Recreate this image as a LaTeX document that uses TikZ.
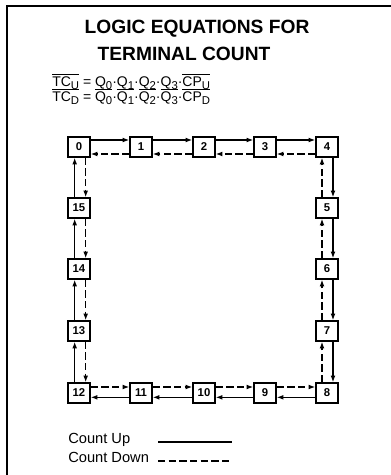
\documentclass[tikz,border=0pt]{standalone}
\usepackage{fontspec}
\setmainfont{Liberation Sans}
\usetikzlibrary{arrows.meta}

\newcommand{\ovl}[1]{$\overline{\mbox{#1}}$}
\newcommand{\sbs}[1]{\raisebox{-0.5ex}{\fontsize{8.5}{9}\selectfont #1}}
\newcommand{\pdt}{\textperiodcentered}

\tikzset{
  state/.style={draw,line width=1.1pt,minimum width=16.5pt,minimum height=15pt,
    inner sep=0pt,font=\bfseries\fontsize{8.5}{9}\selectfont},
  upline/.style={line width=0.8pt},
  downline/.style={upline,dash pattern=on 5.5pt off 2.5pt},
  cntup/.style={upline,-{Latex[length=5pt,width=3.6pt]}},
  cntdown/.style={downline,-{Latex[length=5pt,width=3.6pt]}},
  lbl/.style={font=\fontsize{10.5}{12}\selectfont,inner sep=0pt}
}

\begin{document}
\begin{tikzpicture}[x=0.75pt,y=-0.75pt]
\useasboundingbox (0,0) rectangle (391,475);
% frame
\draw[line width=1.5pt] (7,475) -- (7,6) -- (391,6);

% heading and equations
\node[font=\bfseries\fontsize{14.4}{16}\selectfont,inner sep=0pt] (title1) at (197,29) {LOGIC EQUATIONS FOR};
\node[font=\bfseries\fontsize{14.4}{16}\selectfont,inner sep=0pt] (title2) at (184,54) {TERMINAL COUNT};
\node[lbl,anchor=base west] (equp) at (52,86)
  {\ovl{TC\sbs{U}} = Q\sbs{0}\pdt Q\sbs{1}\pdt Q\sbs{2}\pdt Q\sbs{3}\pdt\ovl{CP\sbs{U}}};
\node[lbl,anchor=base west] (eqdown) at (52,101)
  {\ovl{TC\sbs{D}} = \ovl{Q\sbs{0}}\pdt\ovl{Q\sbs{1}}\pdt\ovl{Q\sbs{2}}\pdt\ovl{Q\sbs{3}}\pdt\ovl{CP\sbs{D}}};

% counter states
\foreach \n/\x/\y in {0/79/147,1/141/147,2/204/147,3/265/147,4/327/147,
    5/327/208,6/327/269,7/327/331,8/327/393,9/265/393,10/204/393,
    11/141/393,12/79/393,13/79/331,14/79/269,15/79/208}
  \node[state] (s\n) at (\x,\y) {\n};

% top row
\foreach \a/\b in {0/1,1/2,2/3,3/4}{
  \draw[cntup] ([yshift=5.25pt]s\a.east) -- ([yshift=5.25pt]s\b.west);
  \draw[cntdown] ([yshift=-5.25pt]s\b.west) -- ([yshift=-5.25pt]s\a.east);
}
% right column
\foreach \a/\b in {4/5,5/6,6/7,7/8}{
  \draw[cntup] ([xshift=4.5pt]s\a.south) -- ([xshift=4.5pt]s\b.north);
  \draw[cntdown] ([xshift=-3.75pt]s\b.north) -- ([xshift=-3.75pt]s\a.south);
}
% bottom row
\foreach \a/\b in {8/9,9/10,10/11,11/12}{
  \draw[cntup] ([yshift=-3.25pt]s\a.west) -- ([yshift=-3.25pt]s\b.east);
  \draw[cntdown] ([yshift=4.5pt]s\b.east) -- ([yshift=4.5pt]s\a.west);
}
% left column
\foreach \a/\b in {12/13,13/14,14/15,15/0}{
  \draw[cntup] ([xshift=-3.25pt]s\a.north) -- ([xshift=-3.25pt]s\b.south);
  \draw[cntdown] ([xshift=5pt]s\b.south) -- ([xshift=5pt]s\a.north);
}

% legend
\node[lbl,anchor=base west,font=\fontsize{11}{12}\selectfont] (lup) at (68,443) {Count Up};
\node[lbl,anchor=base west,font=\fontsize{11}{12}\selectfont] (ldown) at (68,462) {Count Down};
\coordinate (lupa) at (158,442);
\coordinate (lupb) at (232,442);
\coordinate (ldowna) at (158,461);
\coordinate (ldownb) at (232,461);
\draw[upline] (lupa) -- (lupb);
\draw[downline] (ldowna) -- (ldownb);
\end{tikzpicture}
\end{document}
